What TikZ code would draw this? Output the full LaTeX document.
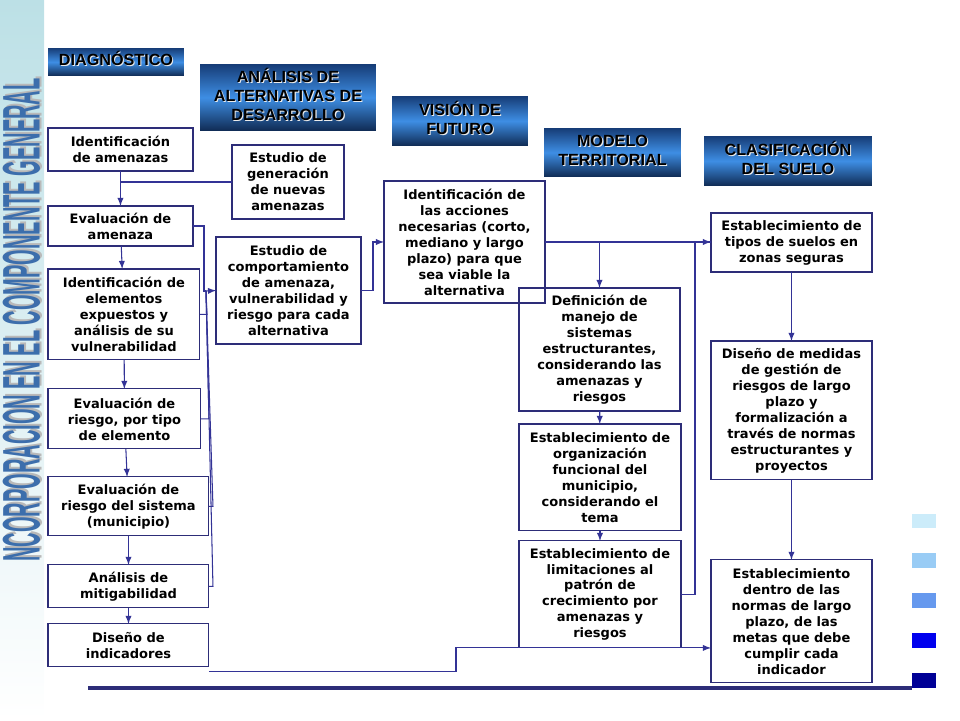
\documentclass[tikz,border=0pt]{standalone}
\usepackage{fontspec}
\newfontfamily\boxfont{DejaVu Sans}
\newfontfamily\headfont{Liberation Sans}
\usepackage{tikz}
\usetikzlibrary{positioning}
\usetikzlibrary{arrows}

\definecolor{boxline}{RGB}{45,45,120}
\definecolor{conline}{RGB}{51,51,150}
\definecolor{hddark}{RGB}{22,60,118}
\definecolor{hdlight}{RGB}{62,142,228}
\definecolor{stripblue}{RGB}{188,224,230}
\definecolor{titleblue}{RGB}{60,110,172}

% header text with a light shadow
\newcommand\shtext[1]{\setbox0=\hbox{\begin{tabular}{@{}c@{}}#1\end{tabular}}\rlap{\kern0.6pt\raisebox{-0.6pt}{\color{white!85!gray}\copy0}}\box0}

\begin{document}
\begin{tikzpicture}[x=0.02cm,y=-0.02cm]
\tikzset{header/.style={anchor=north west, inner sep=0pt, outer sep=0pt, top color=hddark, bottom color=hddark!70!black, middle color=hdlight, font=\headfont\bfseries\fontsize{9.2}{10.8}\selectfont}}
\tikzset{stage/.style={draw=boxline, line width=0.6pt, anchor=north west, align=center, inner sep=1pt, outer sep=0pt, font=\boxfont\bfseries\fontsize{7.4}{9.1}\selectfont}}
\tikzset{link/.style={draw=conline, line width=0.6pt}}
\useasboundingbox (0,0) rectangle (960,720);
\shade[top color=stripblue, bottom color=white] (0,0) rectangle (44,720);
\node[rotate=90, inner sep=0pt, text=gray!55] (titlesh) at (23.5,318) {\resizebox{275pt}{21pt}{\headfont\bfseries NCORPORACION EN EL COMPONENTE GENERAL}};
\node[rotate=90, inner sep=0pt, text=titleblue] (title) at (21.5,320) {\resizebox{275pt}{21pt}{\headfont\bfseries NCORPORACION EN EL COMPONENTE GENERAL}};

% headers
\node[header, minimum width=2.72cm, minimum height=0.56cm] (hdiag) at (48,48) {\shtext{DIAGNÓSTICO}};
\node[header, minimum width=3.52cm, minimum height=1.34cm] (halt) at (200,64) {\shtext{ANÁLISIS DE\\ALTERNATIVAS DE\\DESARROLLO}};
\node[header, minimum width=2.72cm, minimum height=1cm] (hvis) at (392,96) {\shtext{VISIÓN DE\\FUTURO}};
\node[header, minimum width=2.74cm, minimum height=0.98cm] (hmod) at (544,128) {\shtext{MODELO\\TERRITORIAL}};
\node[header, minimum width=3.36cm, minimum height=1cm] (hclas) at (704,136) {\shtext{CLASIFICACIÓN\\DEL SUELO}};

% diagnostico
\node[stage, minimum width=2.9cm, minimum height=0.86cm] (amen) at (48,128) {Identificación\\de amenazas};
\node[stage, below=0.7cm of amen.south west, anchor=north west, minimum width=2.9cm, minimum height=0.8cm] (evam) {Evaluación de\\amenaza};
\node[stage, below=0.46cm of evam.south west, anchor=north west, minimum width=3.04cm, minimum height=1.82cm] (expu) {Identificación de\\elementos\\expuestos y\\análisis de su\\vulnerabilidad};
\node[stage, below=0.58cm of expu.south west, anchor=north west, minimum width=3.06cm, minimum height=1.2cm] (rtip) {Evaluación de\\riesgo, por tipo\\de elemento};
\node[stage, below=0.56cm of rtip.south west, anchor=north west, minimum width=3.22cm, minimum height=1.18cm] (rsis) {Evaluación de\\riesgo del sistema\\(municipio)};
\node[stage, below=0.58cm of rsis.south west, anchor=north west, minimum width=3.22cm, minimum height=0.86cm] (miti) {Análisis de\\mitigabilidad};
\node[stage, below=0.32cm of miti.south west, anchor=north west, minimum width=3.22cm, minimum height=0.86cm] (indi) {Diseño de\\indicadores};

% alternativas
\node[stage, minimum width=2.24cm, minimum height=1.48cm] (gena) at (232,145) {Estudio de\\generación\\de nuevas\\amenazas};
\node[stage, minimum width=2.9cm, minimum height=2.14cm] (comp) at (216,237) {Estudio de\\comportamiento\\de amenaza,\\vulnerabilidad y\\riesgo para cada\\alternativa};

% vision
\node[stage, minimum width=3.22cm, minimum height=2.44cm] (acci) at (384,181) {Identificación de\\las acciones\\necesarias (corto,\\mediano y largo\\plazo) para que\\sea viable la\\alternativa};

% modelo territorial
\node[stage, minimum width=3.22cm, minimum height=2.46cm] (sist) at (519,288) {Definición de\\manejo de\\sistemas\\estructurantes,\\considerando las\\amenazas y\\riesgos};
\node[stage, below=0.26cm of sist.south west, anchor=north west, minimum width=3.24cm, minimum height=2.14cm] (orga) {Establecimiento de\\organización\\funcional del\\municipio,\\considerando el\\tema};
\node[stage, below=0.2cm of orga.south west, anchor=north west, minimum width=3.24cm, minimum height=2.14cm] (limi) {Establecimiento de\\limitaciones al\\patrón de\\crecimiento por\\amenazas y\\riesgos};

% clasificacion
\node[stage, minimum width=3.22cm, minimum height=1.18cm] (tipo) at (711,213) {Establecimiento de\\tipos de suelos en\\zonas seguras};
\node[stage, below=1.38cm of tipo.south west, anchor=north west, minimum width=3.22cm, minimum height=2.78cm] (medi) {Diseño de medidas\\de gestión de\\riesgos de largo\\plazo y\\formalización a\\través de normas\\estructurantes y\\proyectos};
\node[stage, below=1.6cm of medi.south west, anchor=north west, minimum width=3.22cm, minimum height=2.46cm] (meta) {Establecimiento\\dentro de las\\normas de largo\\plazo, de las\\metas que debe\\cumplir cada\\indicador};

% connectors
\draw[link,-latex] (amen) -- (evam);
\draw[link,-latex] (evam) -- (expu);
\draw[link,-latex] (expu) -- (rtip);
\draw[link,-latex] (rtip) -- (rsis);
\draw[link,-latex] (rsis) -- (miti);
\draw[link,-latex] (miti) -- (indi);
\draw[link] (gena.west) -- (gena.west -| amen.south);
\coordinate (mrg) at (206,291);
\draw[link] (evam.east) -- ++(11,0) |- (mrg);
\draw[link] (expu.east) -- ++(7,0) -- (mrg);
\draw[link] (rtip.east) -- ++(8,0) -- (mrg);
\draw[link] (rsis.east) -- ++(4,0) -- (mrg);
\draw[link] (miti.east) -- ++(4,0) -- (mrg);
\draw[link,-latex] (mrg) -- (comp.west);
\draw[link,-latex] (comp.east) -- ++(12,0) |- (acci.west);
\draw[link,-latex] (acci.east) -- (acci.east -| tipo.west);
\draw[link,-latex] (acci.east -| sist.north) -- (sist.north);
\draw[link,-latex] (sist) -- (orga);
\draw[link,-latex] (orga) -- (limi);
\draw[link] (limi.east) -- ++(14,0) |- (acci.east -| tipo.west);
\draw[link,-latex] (tipo) -- (medi);
\draw[link,-latex] (medi) -- (meta);
\draw[link,-latex] (indi.south east) ++(0,5) -- ++(247,0) |- (limi.south -| meta.west);

% bottom rule and squares
\draw[boxline, line width=1.8pt] (88,688) -- (912,688);
\fill[fill={rgb,255:red,204;green,236;blue,250}] (912,514) rectangle (936,528);
\fill[fill={rgb,255:red,153;green,204;blue,245}] (912,553) rectangle (936,568);
\fill[fill={rgb,255:red,102;green,153;blue,238}] (912,593) rectangle (936,608);
\fill[fill={rgb,255:red,0;green,0;blue,238}] (912,633) rectangle (936,648);
\fill[fill={rgb,255:red,0;green,0;blue,150}] (912,673) rectangle (936,688);
\end{tikzpicture}
\end{document}
